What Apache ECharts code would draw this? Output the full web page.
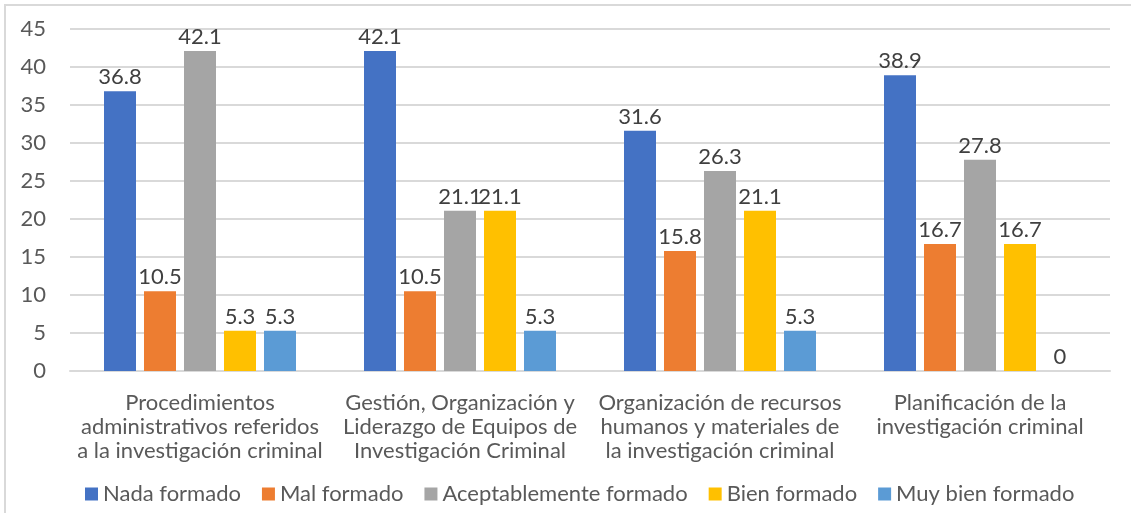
<!DOCTYPE html>
<html>
<head>
<meta charset="utf-8">
<script src="https://cdn.jsdelivr.net/npm/echarts@6/dist/echarts.min.js"></script>
<style>
  html, body { margin: 0; padding: 0; background: #fff; }
  #chart { width: 1131px; height: 513px; }
</style>
</head>
<body>
<div id="chart"></div>
<script>
// Categories (training areas) and the share of each rating, in percent
const categories = [
  'Procedimientos\nadministrativos referidos\na la investigación criminal',
  'Gestión, Organización y\nLiderazgo de Equipos de\nInvestigación Criminal',
  'Organización de recursos\nhumanos y materiales de\nla investigación criminal',
  'Planificación de la\ninvestigación criminal'
];
const seriesNames = ['Nada formado', 'Mal formado', 'Aceptablemente formado', 'Bien formado', 'Muy bien formado'];
const nadaFormado = [36.8, 42.1, 31.6, 38.9];
const malFormado = [10.5, 10.5, 15.8, 16.7];
const aceptablementeFormado = [42.1, 21.1, 26.3, 27.8];
const bienFormado = [5.3, 21.1, 21.1, 16.7];
const muyBienFormado = [5.3, 5.3, 5.3, 0];
const seriesValues = [nadaFormado, malFormado, aceptablementeFormado, bienFormado, muyBienFormado];
const colors = ['#4472C4', '#ED7D31', '#A5A5A5', '#FFC000', '#5B9BD5'];

const FONT = 'Lato';
const FS = 22;

const chart = echarts.init(document.getElementById('chart'), null, { renderer: 'canvas' });

chart.setOption({
  animation: false,
  color: colors,
  textStyle: { fontFamily: FONT },
  graphic: [{
    type: 'rect',
    shape: { x: 5, y: 5, width: 1200, height: 600 },
    style: { fill: 'none', stroke: '#d9d9d9', lineWidth: 2 },
    silent: true,
    z: -1
  }],
  grid: { left: 70, right: 21, top: 29, bottom: 142, containLabel: false },
  legend: {
    top: 478,
    left: 80,
    itemWidth: 13,
    itemHeight: 13,
    itemGap: 21,
    icon: 'rect',
    textStyle: { fontFamily: FONT, fontSize: FS, color: '#595959', padding: [10, 0, 0, 0] },
    data: seriesNames
  },
  xAxis: {
    type: 'category',
    data: categories,
    axisLine: { show: true, lineStyle: { color: '#d9d9d9', width: 2 } },
    axisTick: { show: false },
    axisLabel: {
      interval: 0,
      margin: 20,
      fontFamily: FONT,
      fontSize: FS,
      lineHeight: 24,
      color: '#595959',
      align: 'center'
    }
  },
  yAxis: {
    type: 'value',
    min: 0,
    max: 45,
    interval: 5,
    axisLine: { show: false },
    axisTick: { show: false },
    splitLine: { lineStyle: { color: '#d9d9d9', width: 2 } },
    axisLabel: { fontFamily: FONT, fontSize: FS, color: '#595959', margin: 24 }
  },
  series: seriesNames.map((name, i) => ({
    name: name,
    type: 'bar',
    data: seriesValues[i],
    barWidth: 32,
    barGap: '25%',
    itemStyle: { color: colors[i] },
    label: {
      show: true,
      position: 'top',
      distance: 3,
      fontFamily: FONT,
      fontSize: FS,
      color: '#404040'
    }
  }))
});
</script>
</body>
</html>
